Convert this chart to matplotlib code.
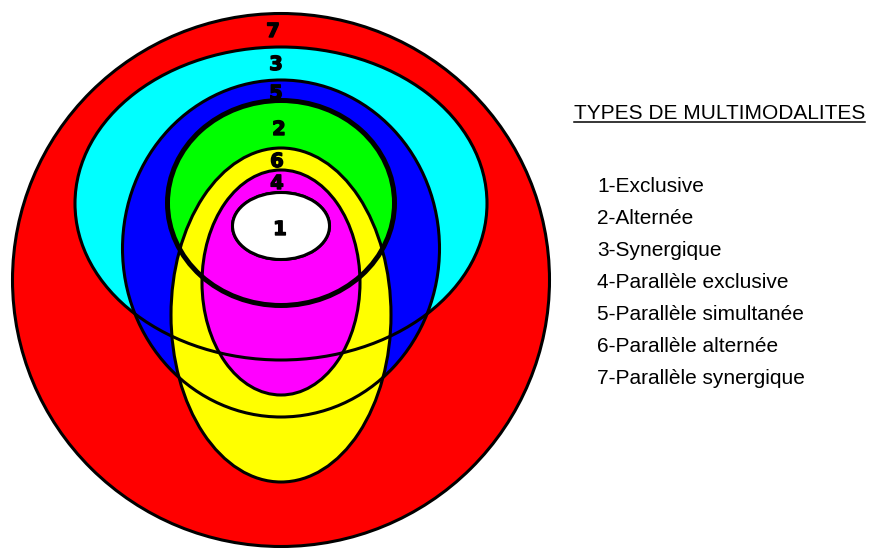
import matplotlib
matplotlib.use("Agg")
from matplotlib import pyplot as plt
from matplotlib.patches import Ellipse
import matplotlib.patheffects as pe

# nested zones, drawn back to front
zone_ids = ["7", "3", "5", "2", "6", "4", "1"]
zone_colors = ["#ff0000", "#00ffff", "#0000ff", "#00ff00", "#ffff00", "#ff00ff", "#ffffff"]
zone_cx = [281, 281, 281, 281, 281, 281, 281]
zone_cy = [280, 203.5, 248.5, 203, 315, 282.5, 226]
zone_w = [537, 412, 317, 227, 220, 158, 97]
zone_h = [533, 313, 337, 205, 334, 225, 67]
zone_lw = [2.2, 2.2, 2.2, 3.6, 2.2, 2.2, 2.2]

# number labels inside the zones
label_x = [273, 276, 276, 279, 277, 277, 280]
label_y = [30, 63, 92, 128, 160, 182, 228]

legend_title = "TYPES DE MULTIMODALITES"
legend_items = [
    "1-Exclusive",
    "2-Alternée",
    "3-Synergique",
    "4-Parallèle exclusive",
    "5-Parallèle simultanée",
    "6-Parallèle alternée",
    "7-Parallèle synergique",
]

fig = plt.figure(figsize=(8.73, 5.48), dpi=100)
ax = fig.add_axes([0, 0, 1, 1])
ax.set_xlim(0, 873)
ax.set_ylim(548, 0)
ax.set_aspect("equal")
ax.axis("off")

for i in range(len(zone_ids)):
    ax.add_patch(Ellipse((zone_cx[i], zone_cy[i]), zone_w[i], zone_h[i],
                         facecolor=zone_colors[i], edgecolor="none", zorder=1 + i))
for i in range(len(zone_ids)):
    ax.add_patch(Ellipse((zone_cx[i], zone_cy[i]), zone_w[i], zone_h[i],
                         facecolor="none", edgecolor="black", lw=zone_lw[i],
                         zorder=10 + i))
    if i == len(zone_ids) - 1:
        # white core sits above every line
        ax.add_patch(Ellipse((zone_cx[i], zone_cy[i]), zone_w[i], zone_h[i],
                             facecolor=zone_colors[i], edgecolor="black",
                             lw=zone_lw[i], zorder=20))

# heavy digits (stroke thickens DejaVu bold towards a black face)
heavy = [pe.withStroke(linewidth=1.0, foreground="black")]
for lab, x, y in zip(zone_ids, label_x, label_y):
    ax.text(x, y + 7, lab, ha="center", va="baseline", fontsize=14,
            fontweight="heavy", family="DejaVu Sans", zorder=30,
            path_effects=heavy)

t = ax.text(574, 119, legend_title, ha="left", va="baseline", fontsize=15,
            family="Liberation Sans")
fig.canvas.draw()
bb = t.get_window_extent().transformed(ax.transData.inverted())
ax.plot([bb.x0, bb.x1], [122, 122], color="black", lw=1.1)

for k, item in enumerate(legend_items):
    ax.text(597, 192 + 32 * k, item, ha="left", va="baseline", fontsize=15,
            family="Liberation Sans")

fig.savefig("out.png", dpi=100)
